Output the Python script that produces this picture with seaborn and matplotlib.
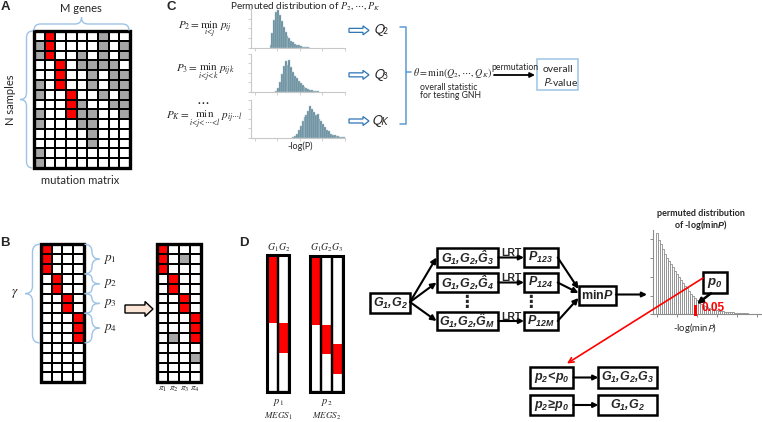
import numpy as np
import pandas as pd
import matplotlib
matplotlib.use("Agg")
import matplotlib.pyplot as plt
import seaborn as sns
from matplotlib.colors import ListedColormap
from matplotlib.patches import Rectangle, FancyArrow, PathPatch
from matplotlib.path import Path

# ---------------------------------------------------------------- data
# Panel A: mutation matrix (0 = no mutation, 1 = mutation, 2 = module mutation)
matrix_a = [
    [0, 2, 0, 0, 0, 0, 1, 0, 0],
    [1, 2, 0, 0, 0, 0, 1, 0, 1],
    [1, 2, 0, 0, 1, 0, 1, 0, 1],
    [0, 0, 2, 0, 1, 1, 1, 1, 0],
    [0, 0, 2, 0, 0, 1, 0, 1, 1],
    [1, 0, 2, 0, 0, 1, 0, 1, 1],
    [1, 0, 0, 2, 0, 0, 1, 0, 1],
    [0, 0, 0, 2, 1, 0, 0, 1, 1],
    [1, 0, 0, 2, 1, 1, 0, 0, 1],
    [1, 0, 0, 0, 1, 1, 0, 0, 0],
    [0, 0, 0, 0, 0, 1, 0, 0, 0],
    [0, 0, 0, 0, 0, 1, 0, 0, 0],
    [1, 0, 0, 0, 0, 0, 0, 0, 0],
    [1, 0, 0, 0, 0, 0, 0, 0, 0],
]
# Panel B: module matrix before / after permutation
matrix_b_left = [
    [2, 0, 0, 0], [2, 0, 0, 0], [2, 0, 0, 0],
    [0, 2, 0, 0], [0, 2, 0, 0],
    [0, 0, 2, 0], [0, 0, 2, 0],
    [0, 0, 0, 2], [0, 0, 0, 2], [0, 0, 0, 2],
    [0, 0, 0, 0], [0, 0, 0, 0], [0, 0, 0, 0], [0, 0, 0, 0],
]
matrix_b_right = [
    [2, 0, 0, 0], [2, 0, 1, 0], [2, 0, 0, 0],
    [0, 2, 0, 0], [0, 2, 0, 0],
    [0, 0, 2, 0], [0, 0, 2, 0],
    [0, 0, 0, 2], [0, 0, 0, 2], [0, 1, 0, 2],
    [0, 0, 0, 0], [0, 0, 0, 1], [0, 0, 0, 0], [0, 0, 0, 0],
]
b_block_rows = [3, 2, 2, 3]
b_p_labels = [r'$p_1$', r'$p_2$', r'$p_3$', r'$p_4$']
b_pi_labels = [r'$\pi_1$', r'$\pi_2$', r'$\pi_3$', r'$\pi_4$']

# Panel C: permuted distributions (bin start on a 0-100 -log(P) scale, bin width 2)
hist_c_start = [20, 26, 44]
hist_c_p2 = [8, 40, 75, 95, 100, 88, 72, 55, 42, 32, 25, 19, 14, 10, 8, 6, 4, 3, 2, 1.5, 1, 0.5]
hist_c_p3 = [3, 11, 26, 48, 70, 86, 75, 88, 68, 55, 44, 37, 30, 24, 19, 14, 10, 7, 5, 3.5, 2.6, 1.8, 1]
hist_c_pk = [2, 5, 12, 22, 34, 46, 57, 64, 75, 88, 78, 70, 62, 65, 53, 46, 37, 31, 23, 18, 12, 9, 7, 5, 4.5, 3.5, 2.6, 1.8]
c_eq_labels = [r'$P_2 = \min_{i<j}\ p_{ij}$',
               r'$P_3 = \min_{i<j<k}\ p_{ijk}$',
               r'$P_K = \min_{i<j<\cdots<l}\ p_{ij\cdots l}$']
c_q_labels = [r'$Q_2$', r'$Q_3$', r'$Q_K$']

# Panel D: MEGS columns (red segment start / end as fraction of samples)
megs1_genes = [r'$G_1$', r'$G_2$']
megs1_red = [(0.00, 0.50), (0.50, 0.715)]
megs2_genes = [r'$G_1$', r'$G_2$', r'$G_3$']
megs2_red = [(0.00, 0.505), (0.505, 0.72), (0.65, 0.868)]
# permuted distribution of -log(minP) (bin width 1 unit)
hist_d = [81, 74, 70, 65, 60, 56, 53, 50, 47, 43, 40, 37, 34, 31, 28, 26, 23, 20,
          18, 16, 14, 12, 10, 9, 8, 7, 6, 5.5, 5, 4.5, 4, 3.6, 3.3, 3, 2.8, 2.6,
          2.3, 2.1, 1.9, 1.7, 1.5, 1.4, 1.3, 1.2, 1.0, 0.9, 0.8, 0.7, 0.6, 0.5, 0.4, 0.3]
hist_d_cut_bin = 19.8

# ---------------------------------------------------------------- style
sns.set_theme(style="white")
plt.rcParams['font.family'] = ['Lato', 'DejaVu Sans']
plt.rcParams['mathtext.rm'] = 'Liberation Sans:italic:bold'
plt.rcParams['mathtext.it'] = 'Liberation Sans:italic:bold'
plt.rcParams['mathtext.bf'] = 'Liberation Sans:italic:bold'

W, H = 762, 422
fig = plt.figure(figsize=(W / 100, H / 100), dpi=100)
fig.patch.set_facecolor('white')
ax = fig.add_axes([0, 0, 1, 1])
ax.set_xlim(0, W)
ax.set_ylim(H, 0)
ax.axis('off')
ax.set_zorder(5)
ax.patch.set_alpha(0)

BRACE = '#9dc3e6'
GREY = '#a6a6a6'
RED = '#ff0000'
cmap3 = ListedColormap(['white', GREY, RED])


def inset(x0, y0, x1, y1):
    return fig.add_axes([x0 / W, 1 - y1 / H, (x1 - x0) / W, (y1 - y0) / H])


def matrix(data, x0, y0, x1, y1):
    a = inset(x0, y0, x1, y1)
    sns.heatmap(np.array(data), ax=a, cmap=cmap3, vmin=-0.5, vmax=2.5, cbar=False,
                linewidths=1.35, linecolor='black', xticklabels=False, yticklabels=False)
    a.add_patch(Rectangle((0, 0), 1, 1, transform=a.transAxes, fill=False,
                          ec='black', lw=2.4, clip_on=False))
    return a


def brace(x, y0, y1, w, horizontal=False, color=BRACE, lw=1.0, tip=None):
    ym = (y0 + y1) / 2 if tip is None else tip
    h = w / 2
    r = min(abs(h), (y1 - y0) / 4)
    pts = [(x, y0), (x + h, y0), (x + h, y0 + r), (x + h, ym - r), (x + h, ym),
           (x + w, ym), (x + h, ym), (x + h, ym + r), (x + h, y1 - r), (x + h, y1), (x, y1)]
    codes = [Path.MOVETO, Path.CURVE3, Path.CURVE3, Path.LINETO, Path.CURVE3, Path.CURVE3,
             Path.CURVE3, Path.CURVE3, Path.LINETO, Path.CURVE3, Path.CURVE3]
    if horizontal:
        pts = [(q, p) for p, q in pts]
    ax.add_patch(PathPatch(Path(pts, codes), fill=False, ec=color, lw=lw))


def arrow(x0, y0, x1, y1, color='black', lw=1.5, style='-|>', ms=8):
    ax.annotate('', xy=(x1, y1), xytext=(x0, y0),
                arrowprops=dict(arrowstyle=style, color=color, lw=lw, shrinkA=0,
                                shrinkB=0, mutation_scale=ms))


def box(x0, y0, x1, y1, label, fs=9, ec='black', lw=1.8):
    ax.add_patch(Rectangle((x0, y0), x1 - x0, y1 - y0, fc='white', ec=ec, lw=lw))
    ax.text((x0 + x1) / 2, (y0 + y1) / 2, label, ha='center', va='center', fontsize=fs,
            math_fontfamily='custom', family='Liberation Sans', weight='bold')


def letter(x, y, s):
    ax.text(x, y, s, ha='center', va='center', fontsize=9.5, weight='bold',
            family='Liberation Sans')


def weighted_hist(a, start, width, heights, **kw):
    df = pd.DataFrame({'x': [start + width * (i + 0.5) for i in range(len(heights))],
                       'w': heights})
    sns.histplot(data=df, x='x', weights='w', binwidth=width,
                 binrange=(start, start + width * len(heights)), ax=a, **kw)


# ---------------------------------------------------------------- panel A
letter(5, 7.5, 'A')
ax.text(81, 8, 'M genes', ha='center', va='center', fontsize=8)
brace(30.5, 34, 129, -13, horizontal=True)
brace(33, 31, 168, -13)
ax.text(11, 100, 'N samples', ha='center', va='center', fontsize=8, rotation=90)
matrix(matrix_a, 34, 31, 130, 168)
ax.text(80, 180, 'mutation matrix', ha='center', va='center', fontsize=8)

# ---------------------------------------------------------------- panel B
letter(5, 243, 'B')
by0, by1 = 244.3, 382.3
rh = (by1 - by0) / len(matrix_b_left)
matrix(matrix_b_left, 40.7, by0, 84, by1)
matrix(matrix_b_right, 157.3, by0, 200.7, by1)
brace(40, by0, by0 + 10 * rh, -15)
ax.text(15, by0 + 5 * rh, r'$\gamma$', ha='center', va='center', fontsize=9.5,
        math_fontfamily='stix')
start = 0
for n, lab in zip(b_block_rows, b_p_labels):
    ya, yb = by0 + start * rh, by0 + (start + n) * rh
    brace(84.5, ya, yb, 15)
    ax.text(103, (ya + yb) / 2, lab, ha='left', va='center', fontsize=9.5,
            math_fontfamily='stix')
    start += n
ax.add_patch(FancyArrow(125, 309, 28, 0, width=8, head_width=15, head_length=8,
                        length_includes_head=True, fc='#fbe5d6', ec='black', lw=1))
cw = (200.7 - 157.3) / 4
for i, lab in enumerate(b_pi_labels):
    ax.text(157.3 + (i + 0.5) * cw, 389, lab, ha='center', va='center', fontsize=6.5,
            math_fontfamily='stix')

# ---------------------------------------------------------------- panel C
letter(171, 7.5, 'C')
ax.text(305, 6.5, r'Permuted distribution of $P_2,\cdots,P_K$', ha='center', va='center',
        fontsize=7.2, math_fontfamily='stix')
c_rows = [(9, 47.7), (54, 91.7), (100, 138)]
for (ya, yb), st, hv, eq, q in zip(c_rows, hist_c_start, [hist_c_p2, hist_c_p3, hist_c_pk],
                                   c_eq_labels, c_q_labels):
    a = inset(250.7, ya, 345, yb)
    weighted_hist(a, st, 2, hv, color='#5d8494', edgecolor='#b3cad3', linewidth=0.35,
                  alpha=1)
    a.set_xlim(0, 100)
    a.set_ylim(0, 104)
    a.set_xlabel('')
    a.set_ylabel('')
    a.patch.set_alpha(0)
    for s in ['top', 'right']:
        a.spines[s].set_visible(False)
    for s in ['left', 'bottom']:
        a.spines[s].set_color('#c8c8c8')
        a.spines[s].set_linewidth(0.8)
    a.set_xticks([4.6, 28.4, 52.2, 76, 100])
    a.set_yticks([0, 26, 52, 78, 104])
    a.set_xticklabels([])
    a.set_yticklabels([])
    a.tick_params(direction='out', length=2.5, width=0.6, color='#c8c8c8',
                  bottom=True, left=True)
    ym = (ya + yb) / 2 + 2
    ax.text(205, ym - 1, eq, ha='center', va='center', fontsize=8, math_fontfamily='stix')
    ax.add_patch(FancyArrow(349, ym, 20, 0, width=4, head_width=9, head_length=6,
                            length_includes_head=True, fc='white', ec='#2e75b6', lw=0.9))
    ax.text(381, ym, q, ha='center', va='center', fontsize=10, math_fontfamily='stixsans')
ax.text(203, 101, r'$\cdots$', ha='center', va='center', fontsize=10, math_fontfamily='stix')
ax.text(300, 146, '-log(P)', ha='center', va='center', fontsize=6.5)
ax.plot([400, 406, 406, 400], [27, 27, 124, 124], color='#5b9bd5', lw=1.1)
ax.plot([406, 411], [72, 72], color='#5b9bd5', lw=1.1)
ax.text(413, 73, r'$\theta = \min(Q_2,\cdots,Q_K)$', ha='left', va='center', fontsize=7.2,
        math_fontfamily='stix')
ax.text(449, 87, 'overall statistic', ha='center', va='center', fontsize=6.2)
ax.text(450, 96, 'for testing GNH', ha='center', va='center', fontsize=6.2)
ax.text(515, 67.5, 'permutation', ha='center', va='center', fontsize=6.2)
arrow(494, 75, 535, 75, lw=1.3, ms=7)
ax.add_patch(Rectangle((537, 59), 41, 31, fc='white', ec='#9dc3e6', lw=1.1))
ax.text(543, 69, 'overall', ha='left', va='center', fontsize=7.5)
ax.text(543, 81.5, r'$P$-value', ha='left', va='center', fontsize=7.5,
        math_fontfamily='stixsans')

# ---------------------------------------------------------------- panel D
letter(244, 243.5, 'D')
for (x0, x1, y0, genes, reds, plab, mlab) in [
        (266.7, 289.3, 255, megs1_genes, megs1_red, r'$p_1$', r'$MEGS_1$'),
        (310, 342.7, 256, megs2_genes, megs2_red, r'$p_2$', r'$MEGS_2$')]:
    y1 = 391.7
    a = inset(x0, y0, x1, y1)
    n = len(genes)
    a.bar(range(n), [e - s for s, e in reds], bottom=[s for s, e in reds], width=1,
          color=RED, lw=0)
    a.bar(range(n), [1] * n, bottom=0, width=1, fill=False, edgecolor='black', lw=1.6)
    a.set_xlim(-0.5, n - 0.5)
    a.set_ylim(1, 0)
    a.axis('off')
    a.add_patch(Rectangle((0, 0), 1, 1, transform=a.transAxes, fill=False, ec='black',
                          lw=2.2, clip_on=False))
    cwid = (x1 - x0) / n
    for i, g in enumerate(genes):
        ax.text(x0 + (i + 0.5) * cwid, 248, g, ha='center', va='center', fontsize=7,
                math_fontfamily='stix')
    xc = (x0 + x1) / 2
    ax.text(xc, 403, plab, ha='center', va='center', fontsize=7.5, math_fontfamily='stix')
    ax.text(xc, 416, mlab, ha='center', va='center', fontsize=6.5, math_fontfamily='stix')

# flow chart
box(370, 292.7, 410, 313.3, r'$G_1{,}G_2$')
mids = [257.5, 282.5, 321]
mid_labels = [r'$G_1{,}G_2{,}\hat{G}_3$', r'$G_1{,}G_2{,}\hat{G}_4$',
              r'$G_1{,}G_2{,}\hat{G}_M$']
p_labels = [r'$P_{123}$', r'$P_{124}$', r'$P_{12M}$']
ends = [289, 293, 298]
for ym, ml, pl, ye in zip(mids, mid_labels, p_labels, ends):
    arrow(410, 302, 436.5, ym)
    box(436.7, ym - 9.2, 498.3, ym + 9.2, ml)
    arrow(498.3, ym, 524, ym, ms=7)
    ax.text(511.5, ym - 4.5, 'LRT', ha='center', va='center', fontsize=7.5,
            weight='bold', family='Liberation Sans')
    box(524, ym - 9.2, 557.7, ym + 9.2, pl)
    arrow(557.7, ym, 578.5, ye)
ax.text(466.5, 302, '⋮', ha='center', va='center', fontsize=12, weight='bold',
        family='DejaVu Sans')
ax.text(530, 302, '⋮', ha='center', va='center', fontsize=12, weight='bold',
        family='DejaVu Sans')
box(578.5, 285.7, 616, 305, r'min$P$')
arrow(616, 294.5, 647, 294.5, ms=7)

# histogram of -log(minP)
ad = inset(653, 230, 762, 314.3)
weighted_hist(ad, 0, 1, hist_d, color='white', edgecolor='#8c8c8c', linewidth=0.6,
              alpha=1)
ad.set_xlim(-1.5, 53)
ad.set_ylim(0, 84.3)
ad.set_xlabel('')
ad.set_ylabel('')
ad.patch.set_alpha(0)
for s in ['top', 'right']:
    ad.spines[s].set_visible(False)
for s in ['left', 'bottom']:
    ad.spines[s].set_color('#8c8c8c')
    ad.spines[s].set_linewidth(0.8)
ad.set_xticks([0.35, 10.35, 20.65, 30.65, 40.65, 50.65])
ad.set_yticks([0, 18.5, 37.5, 56.5, 75.5])
ad.set_xticklabels([])
ad.set_yticklabels([])
ad.tick_params(direction='out', length=2.5, width=0.7, color='#8c8c8c', bottom=True,
               left=True)
ad.bar([hist_d_cut_bin], [11], bottom=-1.7, width=1.4, color=RED, lw=0, clip_on=False,
       zorder=5)
ax.text(701, 213, 'permuted distribution', ha='center', va='center', fontsize=6.5,
        weight='bold')
ax.text(701, 224.5, r'of -log(min$P$)', ha='center', va='center', fontsize=6.5,
        weight='bold', math_fontfamily='custom')
ax.text(695, 328, r'-log(min$P$)', ha='center', va='center', fontsize=6.8,
        math_fontfamily='stixsans')
ax.text(701.5, 308, '0.05', ha='left', va='center', fontsize=8.5, weight='bold',
        color=RED, family='Liberation Sans')
arrow(703, 278, 567, 363.5, color=RED, lw=1.2, style='->', ms=9)
box(703.3, 271.7, 726.7, 293.3, r'$p_0$', fs=9.5)
arrow(711, 293.3, 697, 304, lw=1.8, ms=8)

box(530, 367.3, 573.3, 387.7, r'$p_2\!<\!p_0$')
arrow(573.3, 377.5, 598.3, 377.5, ms=7)
box(598.3, 367.3, 656.7, 387.7, r'$G_1{,}G_2{,}G_3$')
box(530, 395, 573.3, 415, r'$p_2\!\geq\!p_0$')
arrow(573.3, 405, 598.3, 405, ms=7)
box(598.3, 395, 656.7, 415, r'$G_1{,}G_2$')

fig.savefig('out.png', dpi=100, facecolor='white')
